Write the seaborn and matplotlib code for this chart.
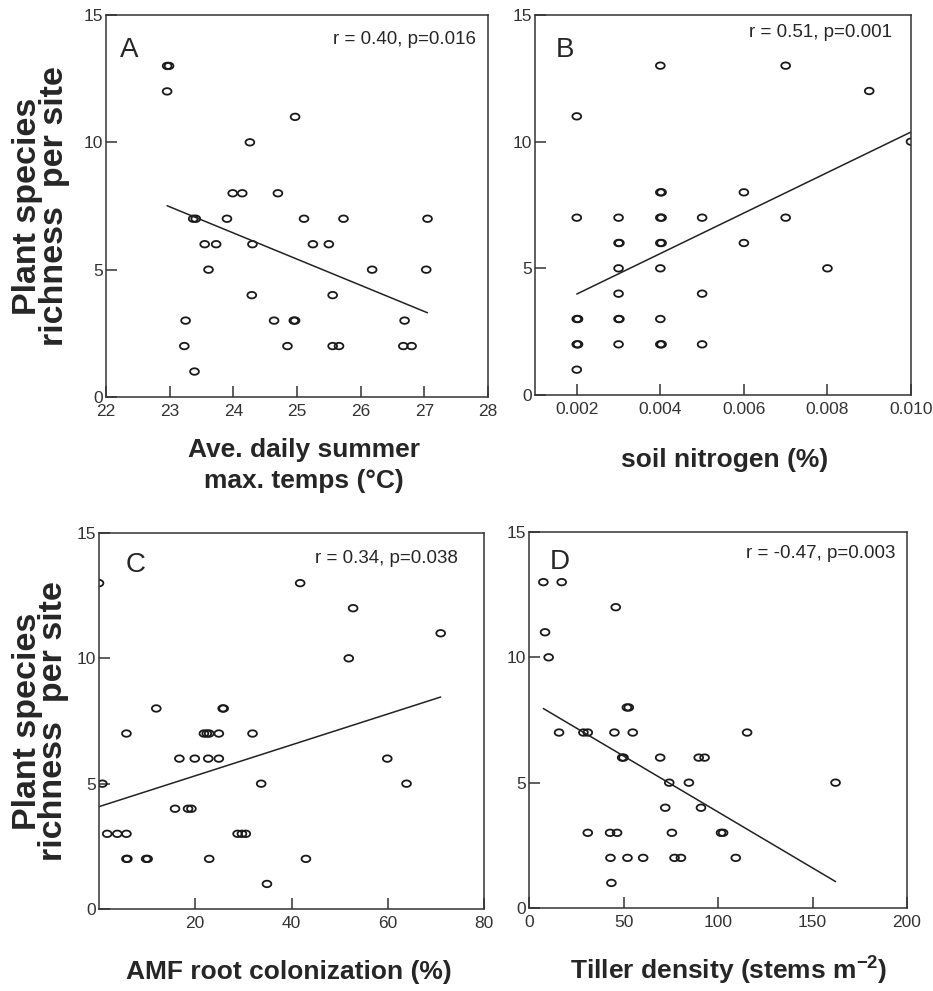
"""
Plant species richness vs. four site variables, 2x2 panel figure.
"""

import numpy as np
import matplotlib
matplotlib.use("Agg")
import matplotlib.pyplot as plt
from matplotlib.path import Path
import seaborn as sns

# ──────────────────────────────────────────────
# Data
# ──────────────────────────────────────────────
temp_a = [22.96, 22.99, 22.96, 24.97, 24.26, 23.99, 24.14, 24.70, 23.37, 23.41,
          23.90, 25.11, 25.73, 27.05, 23.55, 23.73, 24.30, 25.25, 25.50, 23.61,
          26.18, 27.03, 24.29, 25.56, 23.25, 24.64, 24.95, 24.97, 26.69, 23.23,
          24.85, 25.56, 25.66, 26.67, 26.80, 23.39]
rich_a = [13, 13, 12, 11, 10, 8, 8, 8, 7, 7,
          7, 7, 7, 7, 6, 6, 6, 6, 6, 5,
          5, 5, 4, 4, 3, 3, 3, 3, 3, 2,
          2, 2, 2, 2, 2, 1]

nitro_b = [0.002, 0.002, 0.002, 0.00203, 0.002, 0.00203, 0.002,
           0.003, 0.003, 0.00302, 0.003, 0.003, 0.003, 0.00302, 0.003,
           0.004, 0.004, 0.00403, 0.004, 0.00403, 0.004, 0.00403, 0.004, 0.004, 0.004, 0.00403,
           0.005, 0.005, 0.005,
           0.006, 0.006,
           0.007, 0.007,
           0.008, 0.009, 0.010]
rich_b = [11, 7, 3, 3, 2, 2, 1,
          7, 6, 6, 5, 4, 3, 3, 2,
          13, 8, 8, 7, 7, 6, 6, 5, 3, 2, 2,
          7, 4, 2,
          8, 6,
          13, 7,
          5, 12, 10]

amf_c = [0.0, 0.7, 1.7, 3.8, 5.7, 5.7, 5.9, 5.7, 9.8, 10.1,
         11.9, 15.8, 16.7, 18.5, 19.2, 19.9, 21.8, 22.4, 22.9, 22.7,
         24.9, 24.9, 22.9, 25.7, 25.9, 31.9, 28.8, 29.7, 30.5, 33.7,
         34.9, 41.8, 43.0, 51.9, 52.8, 59.9, 63.9, 71.0]
rich_c = [13, 5, 3, 3, 3, 2, 2, 7, 2, 2,
          8, 4, 6, 4, 4, 6, 7, 7, 7, 6,
          7, 6, 2, 8, 8, 7, 3, 3, 3, 5,
          1, 13, 2, 10, 12, 6, 5, 11]

tiller_d = [7.6, 17.3, 45.9, 8.5, 10.4, 51.8, 52.8, 15.9, 28.8, 31.1,
            45.2, 54.9, 115.4, 49.3, 50.0, 69.4, 89.8, 92.9, 74.2, 84.6,
            162.2, 72.1, 91.0, 31.1, 42.9, 46.6, 75.6, 101.6, 102.7, 43.1,
            52.1, 60.4, 77.0, 80.4, 109.4, 43.6]
rich_d = [13, 13, 12, 11, 10, 8, 8, 7, 7, 7,
          7, 7, 7, 6, 6, 6, 6, 6, 5, 5,
          5, 4, 4, 3, 3, 3, 3, 3, 3, 2,
          2, 2, 2, 2, 2, 1]

panel_letters = ["A", "B", "C", "D"]
stats_text = ["r = 0.40, p=0.016", "r = 0.51, p=0.001",
              "r = 0.34, p=0.038", "r = -0.47, p=0.003"]
x_labels = ["Ave. daily summer\nmax. temps (°C)", "soil nitrogen (%)",
            "AMF root colonization (%)", "Tiller density (stems m$^{\\mathregular{-2}}$)"]
y_label = "Plant species\nrichness  per site"

# ──────────────────────────────────────────────
# Style
# ──────────────────────────────────────────────
sns.set_theme(style="ticks")
plt.rcParams.update({
    "font.family": ["Liberation Sans", "DejaVu Sans"],
    "axes.edgecolor": "#333333",
    "axes.linewidth": 1.1,
    "xtick.direction": "in",
    "ytick.direction": "in",
    "xtick.major.size": 8,
    "ytick.major.size": 8,
    "xtick.major.width": 1.1,
    "ytick.major.width": 1.1,
    "xtick.color": "#333333",
    "ytick.color": "#333333",
    "xtick.labelsize": 12.5,
    "ytick.labelsize": 12.5,
    "xtick.major.pad": 5,
    "ytick.major.pad": 2,
})

# SPSS-like open ellipse marker
theta = np.linspace(0, 2 * np.pi, 41)
ellipse = Path(np.column_stack([1.35 * np.cos(theta), np.sin(theta)]), closed=True)

W, H = 933, 991
fig = plt.figure(figsize=(W / 100, H / 100), dpi=100)


def px_axes(left, top, right, bottom):
    return fig.add_axes([left / W, 1 - bottom / H, (right - left) / W, (bottom - top) / H])


axA = px_axes(106, 15, 488, 397)
axB = px_axes(535, 15, 911, 395)
axC = px_axes(99, 533, 484, 909)
axD = px_axes(529, 532, 907, 908)
axes = [axA, axB, axC, axD]

datasets = [(temp_a, rich_a), (nitro_b, rich_b), (amf_c, rich_c), (tiller_d, rich_d)]
for ax, (xv, yv) in zip(axes, datasets):
    sns.regplot(
        x=np.array(xv), y=np.array(yv), ax=ax, ci=None, marker=ellipse, color="#1a1a1a",
        scatter_kws=dict(facecolors="none", edgecolors="#1a1a1a", s=40, linewidths=1.3, alpha=1),
        line_kws=dict(color="#222222", lw=1.1),
    )
    ax.set_ylim(0, 15)
    ax.set_yticks([0, 5, 10, 15])
    ax.set_ylabel("")

axA.set_xlim(22, 28)
axA.set_xticks(range(22, 29))
axB.set_xlim(0.001, 0.010)
axB.set_xticks([0.002, 0.004, 0.006, 0.008, 0.010])
axB.set_xticklabels(["0.002", "0.004", "0.006", "0.008", "0.010"])
axC.set_xlim(0, 80)
axC.set_xticks([20, 40, 60, 80])
axD.set_xlim(0, 200)
axD.set_xticks([0, 50, 100, 150, 200])

# Panel letters, stats and axis labels (positions in axes fraction)
letter_pos = [(0.060, 0.908), (0.079, 0.908), (0.096, 0.915), (0.082, 0.920)]
stats_pos = [(0.969, 0.935), (0.950, 0.953), (0.933, 0.931), (0.968, 0.944)]
xlabel_pos = [(0.518, -0.180), (0.503, -0.171), (0.494, -0.168), (0.527, -0.165)]

for ax, letter, lp, st, sp, xl, xp in zip(axes, panel_letters, letter_pos,
                                           stats_text, stats_pos, x_labels, xlabel_pos):
    ax.text(*lp, letter, transform=ax.transAxes, fontsize=20, ha="center", va="center")
    ax.text(*sp, st, transform=ax.transAxes, fontsize=13.5, ha="right", va="center")
    ax.set_xlabel(xl, fontsize=19, fontweight="bold", va="center", linespacing=1.35)
    ax.xaxis.set_label_coords(*xp)

for ax, xpos in [(axA, -0.170), (axC, -0.151)]:
    ax.set_ylabel(y_label, fontsize=24.5, fontweight="bold", va="center", linespacing=0.8)
    ax.yaxis.set_label_coords(xpos, 0.5)

fig.savefig("out.png", dpi=100)
print("saved out.png")
